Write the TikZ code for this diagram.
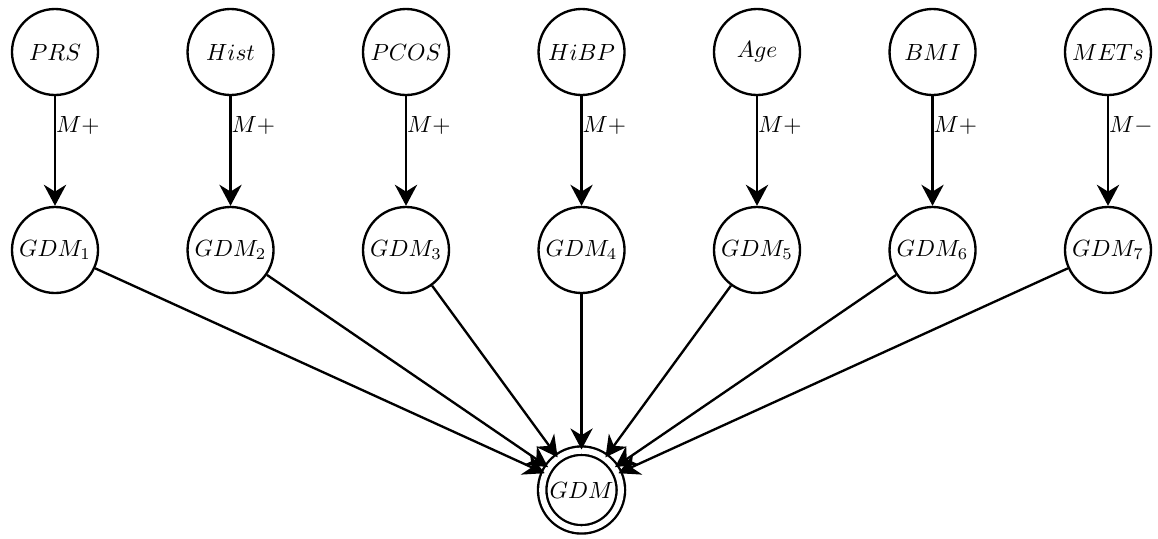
\documentclass[tikz,border=0pt]{standalone}
\usetikzlibrary{arrows.meta}

\begin{document}
\begin{tikzpicture}[
    % Node styles
    var/.style={
        circle,
        draw,
        line width=1pt,
        minimum size=1.29cm,
        inner sep=0pt
    },
    target/.style={
        circle,
        draw,
        line width=1pt,
        double,
        double distance=2.6pt,
        minimum size=1.18cm,
        inner sep=0pt
    },
    link/.style={
        -{Stealth[length=9pt,width=9.5pt]},
        line width=1pt
    },
    sign/.style={
        pos=0.27,
        anchor=west,
        inner sep=0pt
    }
]
    \useasboundingbox (0,0) rectangle (17.37,8.07);

    % Risk factors
    \node[var] (prs)  at (0.825,7.29)  {$PRS$};
    \node[var] (hist) at (3.458,7.29)  {$Hist$};
    \node[var] (pcos) at (6.090,7.29)  {$PCOS$};
    \node[var] (hibp) at (8.723,7.29)  {$HiBP$};
    \node[var] (age)  at (11.355,7.29) {$Age$};
    \node[var] (bmi)  at (13.988,7.29) {$BMI$};
    \node[var] (mets) at (16.620,7.29) {$METs$};

    % Intermediate GDM nodes
    \node[var] (gdm1) at (0.825,4.32)  {$GDM_1$};
    \node[var] (gdm2) at (3.458,4.32)  {$GDM_2$};
    \node[var] (gdm3) at (6.090,4.32)  {$GDM_3$};
    \node[var] (gdm4) at (8.723,4.32)  {$GDM_4$};
    \node[var] (gdm5) at (11.355,4.32) {$GDM_5$};
    \node[var] (gdm6) at (13.988,4.32) {$GDM_6$};
    \node[var] (gdm7) at (16.620,4.32) {$GDM_7$};

    % Outcome
    \node[target] (gdm) at (8.723,0.72) {$GDM$};

    % Monotonic influences
    \draw[link] (prs)  -- node[sign] {$M+$} (gdm1);
    \draw[link] (hist) -- node[sign] {$M+$} (gdm2);
    \draw[link] (pcos) -- node[sign] {$M+$} (gdm3);
    \draw[link] (hibp) -- node[sign] {$M+$} (gdm4);
    \draw[link] (age)  -- node[sign] {$M+$} (gdm5);
    \draw[link] (bmi)  -- node[sign] {$M+$} (gdm6);
    \draw[link] (mets) -- node[sign] {$M-$} (gdm7);

    % Combination into GDM
    \draw[link] (gdm1) -- (gdm);
    \draw[link] (gdm2) -- (gdm);
    \draw[link] (gdm3) -- (gdm);
    \draw[link] (gdm4) -- (gdm);
    \draw[link] (gdm5) -- (gdm);
    \draw[link] (gdm6) -- (gdm);
    \draw[link] (gdm7) -- (gdm);
\end{tikzpicture}
\end{document}
